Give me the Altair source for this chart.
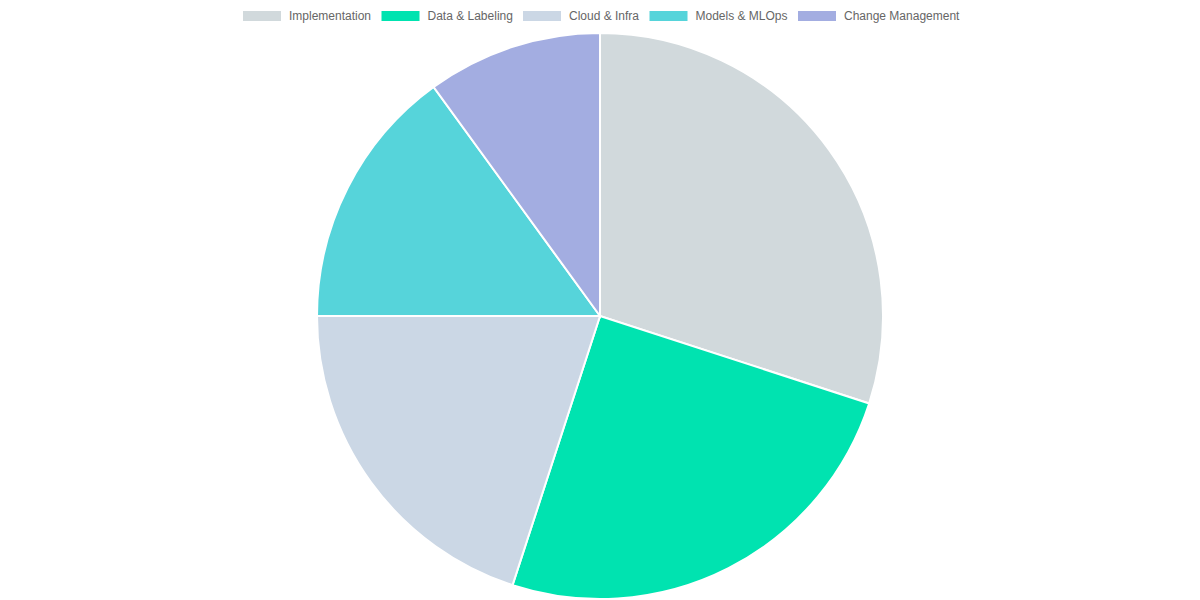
import altair as alt
import pandas as pd

categories = ["Implementation", "Data & Labeling", "Cloud & Infra", "Models & MLOps", "Change Management"]
values = [30, 25, 20, 15, 10]
colors = ["#d1d9dc", "#00e3b0", "#cbd7e5", "#56d4da", "#a3ade1"]

df = pd.DataFrame({"category": categories, "value": values, "order": list(range(len(categories)))})

chart = alt.Chart(df).mark_arc(outerRadius=283, stroke="white", strokeWidth=2).encode(
    theta=alt.Theta("value:Q", stack=True),
    order=alt.Order("order:Q"),
    x=alt.value(592),
    y=alt.value(308),
    color=alt.Color(
        "category:N",
        sort=categories,
        scale=alt.Scale(domain=categories, range=colors),
        legend=alt.Legend(
            title=None,
            orient="none",
            direction="horizontal",
            legendX=235,
            legendY=-11,
            padding=0,
            symbolType="M-1,-0.2632H1V0.2632H-1Z",
            symbolSize=1444,
            symbolStrokeWidth=0,
            symbolOpacity=1,
            labelOffset=8,
            columnPadding=9.5,
            labelFont="Liberation Sans",
            labelFontSize=12,
            labelColor="#666666",
        ),
    ),
).properties(
    width=1184,
    height=592,
    autosize=alt.AutoSizeParams(type="none"),
    padding=0,
).configure_view(stroke=None)

chart.save("out.html", embed_options={"renderer": "svg", "actions": False})
